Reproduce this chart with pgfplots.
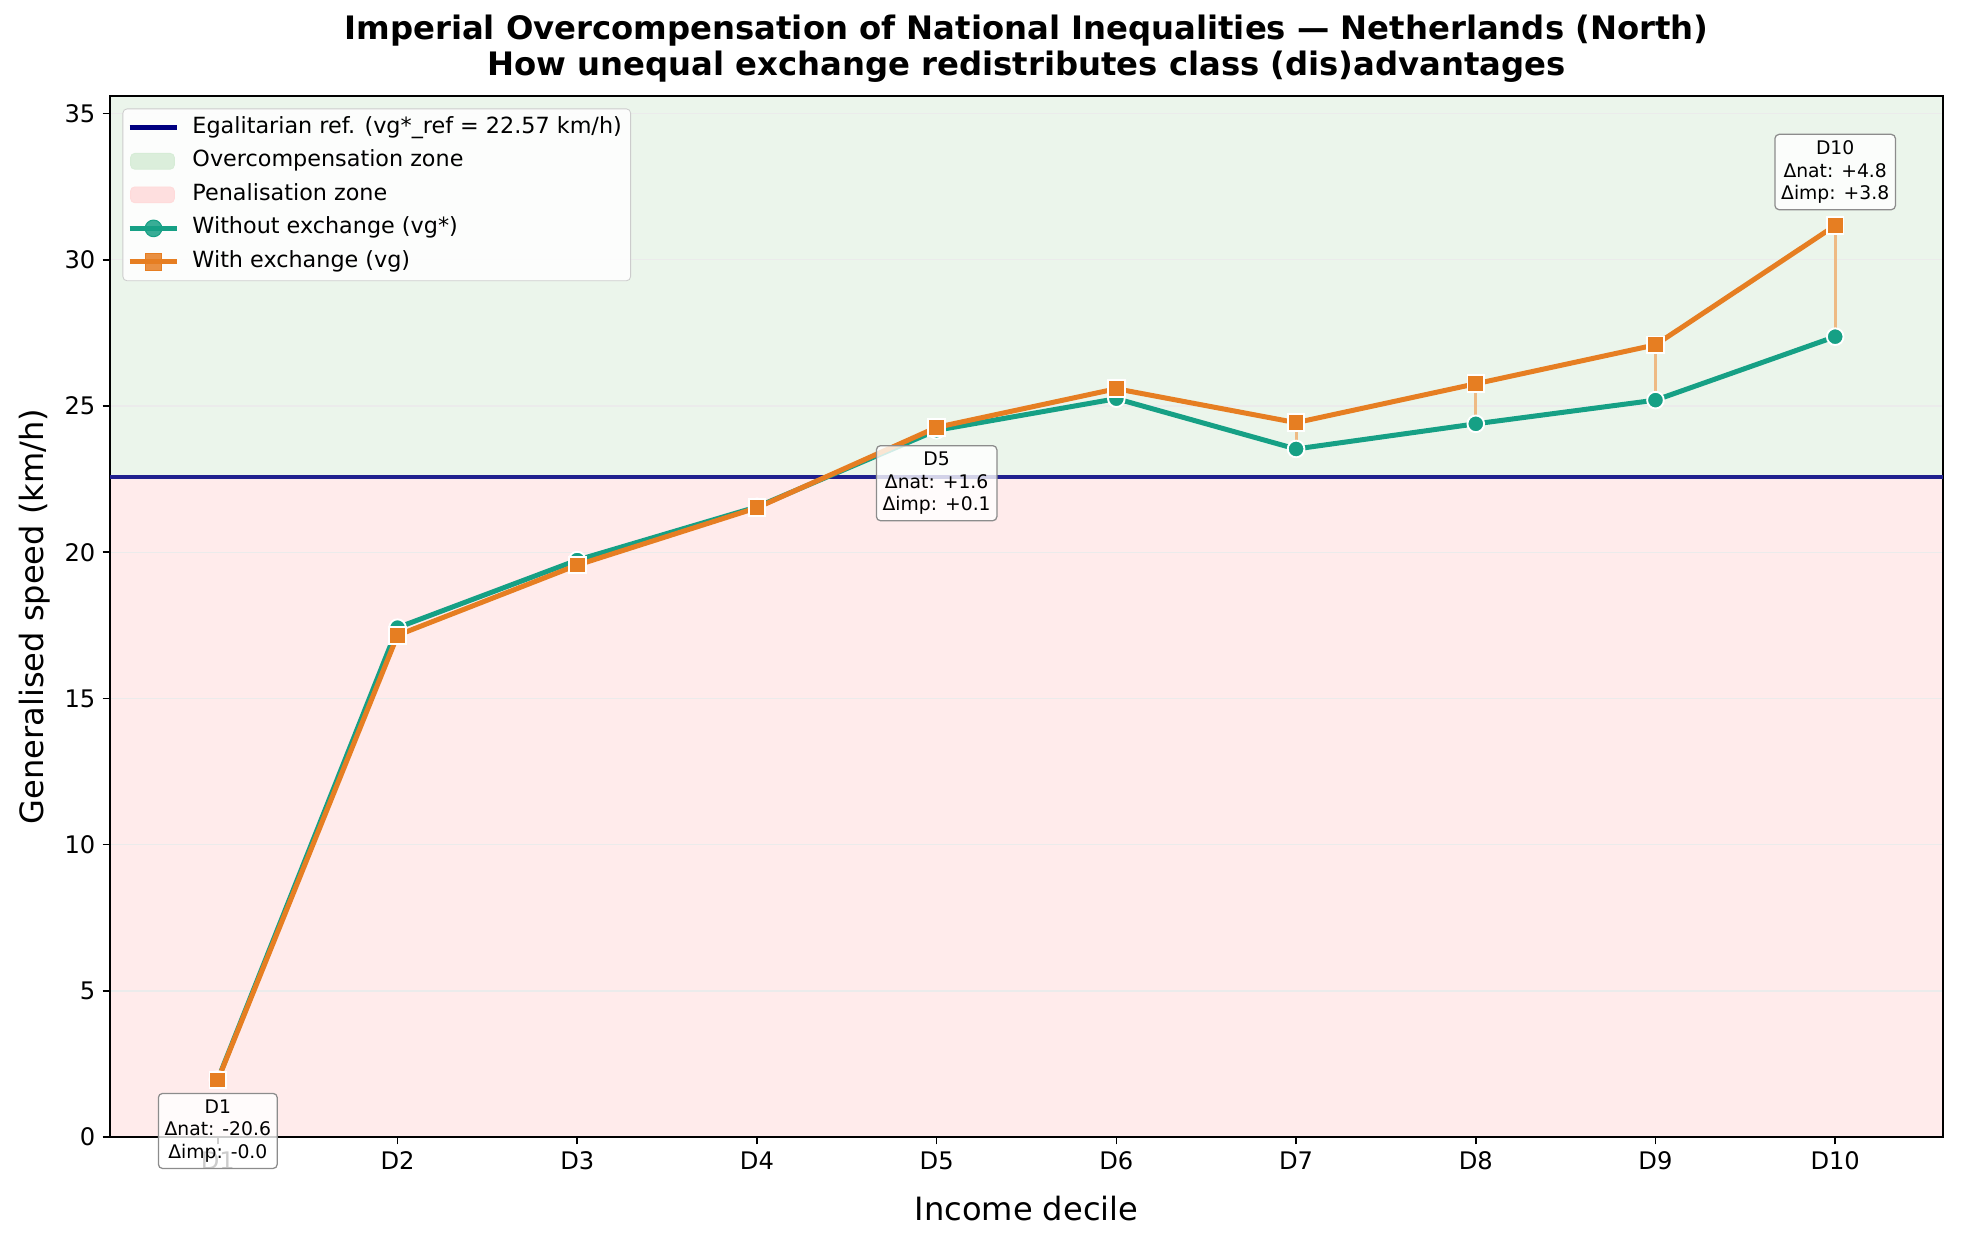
\documentclass[border=0pt]{standalone}
\usepackage{pgfplots}
\pgfplotsset{compat=1.18}
\usepackage{fontspec}
\setmainfont{DejaVu Sans}
\definecolor{teal1}{RGB}{22,160,133}
\definecolor{orange1}{RGB}{230,126,34}
\definecolor{navyplot}{RGB}{32,32,142}
\definecolor{navyleg}{RGB}{0,0,128}
\definecolor{zgreen}{RGB}{235,245,235}
\definecolor{zred}{RGB}{255,235,235}
\definecolor{lgreen}{RGB}{214,236,214}
\definecolor{lred}{RGB}{255,218,218}
\definecolor{connector}{RGB}{238,186,132}
\begin{document}
\begin{tikzpicture}
\begin{axis}[
  set layers=standard,
  scale only axis, width=879.8pt, height=499.7pt,
  xmin=0.4, xmax=10.6, ymin=0, ymax=35.6,
  xtick={1,2,3,4,5,6,7,8,9,10},
  xticklabels={D1,D2,D3,D4,D5,D6,D7,D8,D9,D10},
  ytick={0,5,10,15,20,25,30,35},
  tick align=outside, xtick pos=left, ytick pos=left,
  major tick length=3.5pt,
  tick style={black, line width=0.8pt},
  tick label style={font=\fontsize{11.6}{13.5}\selectfont},
  /pgf/number format/assume math mode=true,
  xlabel={Income decile}, ylabel={Generalised speed (km/h)},
  label style={font=\fontsize{15.4}{18}\selectfont},
  xlabel style={at={(axis description cs:0.5,-0.069)}, anchor=center},
  ylabel style={at={(axis description cs:-0.041,0.5)}, anchor=center},
  ymajorgrids, grid style={black!8, line width=0.6pt},
  axis line style={line width=0.8pt},
  clip=false,
  title={Imperial Overcompensation of National Inequalities — Netherlands (North)\\How unequal exchange redistributes class (dis)advantages},
  title style={align=center, font=\bfseries\fontsize{15.5}{17.4}\selectfont, at={(0.5,1)}, anchor=south, yshift=-3pt},
  legend style={at={(0.0068,0.988)}, anchor=north west, draw=black!20, rounded corners=2pt,
    fill=white, fill opacity=0.85, text opacity=1, font=\fontsize{10.7}{12.8}\selectfont,
    inner sep=2pt, row sep=2pt,
    nodes={inner sep=2.2pt, text height=0.75em, text depth=0.22em}},
  legend cell align=left,
  legend image code/.code={\draw[mark repeat=2,mark phase=2] plot coordinates {(0pt,0pt)(11.5pt,0pt)(23pt,0pt)}; \path (26.8pt,0pt);},
]
% zones
\addplot[draw=none, fill=zred, on layer=axis background, forget plot] coordinates {(0.4,0) (10.6,0) (10.6,22.57) (0.4,22.57)} -- cycle;
\addplot[draw=none, fill=zgreen, on layer=axis background, forget plot] coordinates {(0.4,22.57) (10.6,22.57) (10.6,35.6) (0.4,35.6)} -- cycle;
% legend images
\addlegendimage{navyleg, line width=2.2pt}
\addlegendentry{Egalitarian ref. (vg*\_ref = 22.57 km/h)}
\addlegendimage{legend image code/.code={\fill[lgreen] (0.5pt,-3.8pt) rectangle (21.5pt,3.8pt); \path (26.8pt,0pt);}}
\addlegendentry{Overcompensation zone}
\addlegendimage{legend image code/.code={\fill[lred] (0.5pt,-3.8pt) rectangle (21.5pt,3.8pt); \path (26.8pt,0pt);}}
\addlegendentry{Penalisation zone}
\addlegendimage{teal1, line width=2.4pt, mark=*, mark size=4pt, mark options={fill=teal1, draw=teal1, line width=0.5pt}}
\addlegendentry{Without exchange (vg*)}
\addlegendimage{orange1, line width=2.4pt, mark=square*, mark size=4pt, mark options={fill=orange1, draw=orange1, line width=0.5pt}}
\addlegendentry{With exchange (vg)}
% reference line
\addplot[navyplot, line width=2pt, forget plot] coordinates {(0.4,22.57) (10.6,22.57)};
% connectors
\addplot[connector, line width=1.4pt, unbounded coords=jump, forget plot] coordinates {
(1,1.97) (1,1.95) (1,nan)
(2,17.42) (2,17.16) (2,nan)
(3,19.73) (3,19.56) (3,nan)
(4,21.55) (4,21.52) (4,nan)
(5,24.17) (5,24.27) (5,nan)
(6,25.25) (6,25.59) (6,nan)
(7,23.53) (7,24.43) (7,nan)
(8,24.39) (8,25.76) (8,nan)
(9,25.20) (9,27.09) (9,nan)
(10,27.37) (10,31.17)};
% without exchange
\addplot[teal1, line width=2.4pt, mark=*, mark size=4pt, mark options={fill=teal1, draw=white, line width=0.9pt}, forget plot] coordinates {
(1,1.97) (2,17.42) (3,19.73) (4,21.55) (5,24.17) (6,25.25) (7,23.53) (8,24.39) (9,25.20) (10,27.37)};
% with exchange
\addplot[orange1, line width=2.4pt, mark=square*, mark size=4pt, mark options={fill=orange1, draw=white, line width=0.9pt}, forget plot] coordinates {
(1,1.95) (2,17.16) (3,19.56) (4,21.52) (5,24.27) (6,25.59) (7,24.43) (8,25.76) (9,27.09) (10,31.17)};
% annotations
\node[draw=black!45, rounded corners=2pt, fill=white, fill opacity=0.8, text opacity=1, align=center, font=\fontsize{9}{10.8}\selectfont, inner sep=3pt, line width=0.6pt] at (axis cs:1,0.21) {D1\\Δnat: -20.6\\Δimp: -0.0};
\node[draw=black!45, rounded corners=2pt, fill=white, fill opacity=0.8, text opacity=1, align=center, font=\fontsize{9}{10.8}\selectfont, inner sep=3pt, line width=0.6pt] at (axis cs:5,22.36) {D5\\Δnat: +1.6\\Δimp: +0.1};
\node[draw=black!45, rounded corners=2pt, fill=white, fill opacity=0.8, text opacity=1, align=center, font=\fontsize{9}{10.8}\selectfont, inner sep=3pt, line width=0.6pt] at (axis cs:10,33.0) {D10\\Δnat: +4.8\\Δimp: +3.8};
% bounding box
\path (rel axis cs:0,0) ++(-52.8pt,-51.84pt) coordinate (bbsw);
\path (rel axis cs:1,1) ++(9.12pt,46.08pt) coordinate (bbne);
\path (bbsw) rectangle (bbne);
\end{axis}
\end{tikzpicture}
\end{document}
